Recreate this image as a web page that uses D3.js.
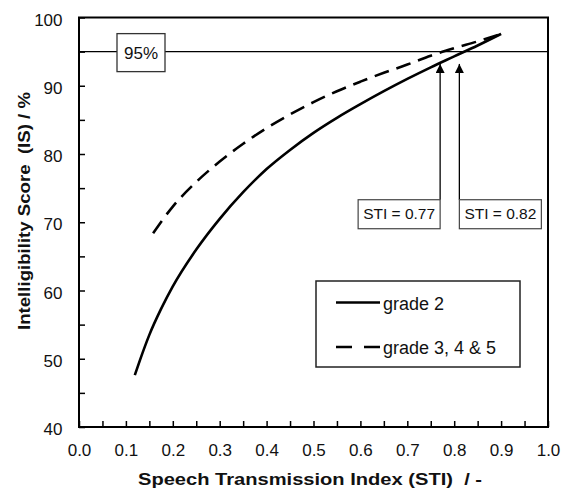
<!DOCTYPE html>
<html>
<head>
<meta charset="utf-8">
<script src="https://cdn.jsdelivr.net/npm/d3@7"></script>
<style>
  html, body { margin: 0; padding: 0; background: #fff; }
  svg { display: block; font-family: "Liberation Sans", Arial, sans-serif; }
</style>
</head>
<body>
<svg id="chart" width="566" height="491"></svg>
<script>
// ---- data ----
const grade2STI   = [0.119, 0.13, 0.15, 0.175, 0.20, 0.25, 0.30, 0.35, 0.40, 0.45, 0.50, 0.55, 0.60, 0.65, 0.70, 0.75, 0.80, 0.85, 0.90];
const grade2IS    = [47.6,  49.8, 53.5, 57.3,  60.6, 66.0, 70.5, 74.4, 77.8, 80.6, 83.1, 85.3, 87.3, 89.2, 91.0, 92.7, 94.3, 95.9, 97.6];
const grade345STI = [0.158, 0.20, 0.25, 0.30, 0.35, 0.40, 0.45, 0.50, 0.55, 0.60, 0.65, 0.70, 0.75, 0.80, 0.85, 0.90];
const grade345IS  = [68.4,  72.3, 75.9, 78.9, 81.5, 83.8, 85.8, 87.6, 89.2, 90.6, 91.9, 93.1, 94.4, 95.5, 96.5, 97.6];
const xTickValues = [0, 0.05, 0.1, 0.15, 0.2, 0.25, 0.3, 0.35, 0.4, 0.45, 0.5, 0.55, 0.6, 0.65, 0.7, 0.75, 0.8, 0.85, 0.9, 0.95, 1.0];
const yTickValues = [40, 45, 50, 55, 60, 65, 70, 75, 80, 85, 90, 95, 100];
const thresholdIS = 95;
const thresholdLabel = "95%";
const arrowSTI = [0.77, 0.811];
const arrowLabels = ["STI = 0.77", "STI = 0.82"];
const arrowTipIS = 93.2;
const arrowBaseIS = 73.3;
const seriesNames = ["grade 2", "grade 3, 4 & 5"];
const xTitle = "Speech Transmission Index (STI)  / -";
const yTitle = "Intelligibility Score  (IS) / %";

// ---- layout ----
const svg = d3.select("#chart");
const L = 79, R = 548, T = 17.5, B = 427;
const x = d3.scaleLinear().domain([0, 1]).range([L, R]);
const y = d3.scaleLinear().domain([40, 100]).range([B, T]);

// threshold line
svg.append("line")
  .attr("x1", x(0)).attr("x2", x(1))
  .attr("y1", y(thresholdIS)).attr("y2", y(thresholdIS))
  .attr("stroke", "#000").attr("stroke-width", 1.4);

// axes
const xAxis = d3.axisBottom(x)
  .tickValues(xTickValues)
  .tickSizeInner(-6).tickSizeOuter(0).tickPadding(17)
  .tickFormat(d => (Math.round(d * 100) % 10 === 0) ? d3.format(".1f")(d) : "");
const gx = svg.append("g").attr("transform", `translate(0,${B})`).call(xAxis);
gx.select(".domain").remove();
gx.selectAll(".tick line").attr("stroke", "#000").attr("stroke-width", 1.5);
gx.selectAll(".tick text").attr("font-size", 17).attr("fill", "#111")
  .attr("font-family", "Liberation Sans, Arial, sans-serif");

const yAxis = d3.axisLeft(y)
  .tickValues(yTickValues)
  .tickSizeInner(-6).tickSizeOuter(0).tickPadding(16.5)
  .tickFormat(d => d % 10 === 0 ? String(d) : "");
const gy = svg.append("g").attr("transform", `translate(${L},0)`).call(yAxis);
gy.select(".domain").remove();
gy.selectAll(".tick line").attr("stroke", "#000").attr("stroke-width", 1.5);
gy.selectAll(".tick text").attr("font-size", 17).attr("fill", "#111").attr("dy", "0.45em")
  .attr("font-family", "Liberation Sans, Arial, sans-serif");

// frame
svg.append("rect")
  .attr("x", x(0)).attr("y", y(100))
  .attr("width", x(1) - x(0)).attr("height", y(40) - y(100))
  .attr("fill", "none").attr("stroke", "#000").attr("stroke-width", 2);

// 95% label box
const bx = 141, by = y(thresholdIS) + 1;
svg.append("rect").attr("x", bx - 24).attr("y", by - 19).attr("width", 48).attr("height", 38)
  .attr("fill", "#fff").attr("stroke", "#333").attr("stroke-width", 1.3);
svg.append("text").attr("x", bx).attr("y", by + 6).attr("text-anchor", "middle")
  .attr("font-size", 17).attr("fill", "#111").text(thresholdLabel);

// curves
const line = d3.line().x(d => x(d[0])).y(d => y(d[1])).curve(d3.curveMonotoneX);
const s1 = grade2STI.map((v, i) => [v, grade2IS[i]]);
const s2 = grade345STI.map((v, i) => [v, grade345IS[i]]);
svg.append("path").datum(s1).attr("d", line)
  .attr("fill", "none").attr("stroke", "#000").attr("stroke-width", 2.6);
svg.append("path").datum(s2).attr("d", line)
  .attr("fill", "none").attr("stroke", "#000").attr("stroke-width", 2.6)
  .attr("stroke-dasharray", "15,8");

// arrows
const defs = svg.append("defs");
defs.append("marker").attr("id", "arrowhead")
  .attr("viewBox", "0 0 10 10").attr("refX", 10).attr("refY", 5)
  .attr("markerUnits", "userSpaceOnUse")
  .attr("markerWidth", 11).attr("markerHeight", 9).attr("orient", "auto")
  .append("path").attr("d", "M0,0 L10,5 L0,10 Z").attr("fill", "#000");

arrowSTI.forEach((s, i) => {
  svg.append("line")
    .attr("x1", x(s)).attr("x2", x(s))
    .attr("y1", y(arrowBaseIS)).attr("y2", y(arrowTipIS))
    .attr("stroke", "#000").attr("stroke-width", 1.3)
    .attr("marker-end", "url(#arrowhead)");
  const w = 82, h = 29;
  const left = i === 0 ? x(s) - w : x(s);
  svg.append("rect").attr("x", left).attr("y", y(arrowBaseIS)).attr("width", w).attr("height", h)
    .attr("fill", "#fff").attr("stroke", "#444").attr("stroke-width", 1.2);
  svg.append("text").attr("x", left + w / 2).attr("y", y(arrowBaseIS) + 19.5)
    .attr("text-anchor", "middle").attr("font-size", 15.5).attr("fill", "#111")
    .text(arrowLabels[i]);
});

// legend
const lg = svg.append("g");
lg.append("rect").attr("x", 316).attr("y", 281).attr("width", 204).attr("height", 86)
  .attr("fill", "#fff").attr("stroke", "#222").attr("stroke-width", 1.5);
const legendRows = [{ y: 302.5, dash: null }, { y: 347, dash: "16,12" }];
legendRows.forEach((r, i) => {
  const ln = lg.append("line").attr("x1", 336).attr("x2", 380).attr("y1", r.y).attr("y2", r.y)
    .attr("stroke", "#000").attr("stroke-width", 2.6);
  if (r.dash) ln.attr("stroke-dasharray", r.dash);
  lg.append("text").attr("x", 383).attr("y", r.y + 7).attr("font-size", 18).attr("fill", "#111")
    .text(seriesNames[i]);
});

// axis titles
svg.append("text").attr("x", 310).attr("y", 485).attr("text-anchor", "middle")
  .attr("font-size", 17).attr("font-weight", "bold").attr("fill", "#111")
  .attr("textLength", 344).attr("lengthAdjust", "spacingAndGlyphs")
  .style("white-space", "pre")
  .text(xTitle);
svg.append("text").attr("transform", "translate(29.5,211) rotate(-90)")
  .attr("text-anchor", "middle")
  .attr("font-size", 17).attr("font-weight", "bold").attr("fill", "#111")
  .attr("textLength", 238).attr("lengthAdjust", "spacingAndGlyphs")
  .style("white-space", "pre")
  .text(yTitle);
</script>
</body>
</html>
